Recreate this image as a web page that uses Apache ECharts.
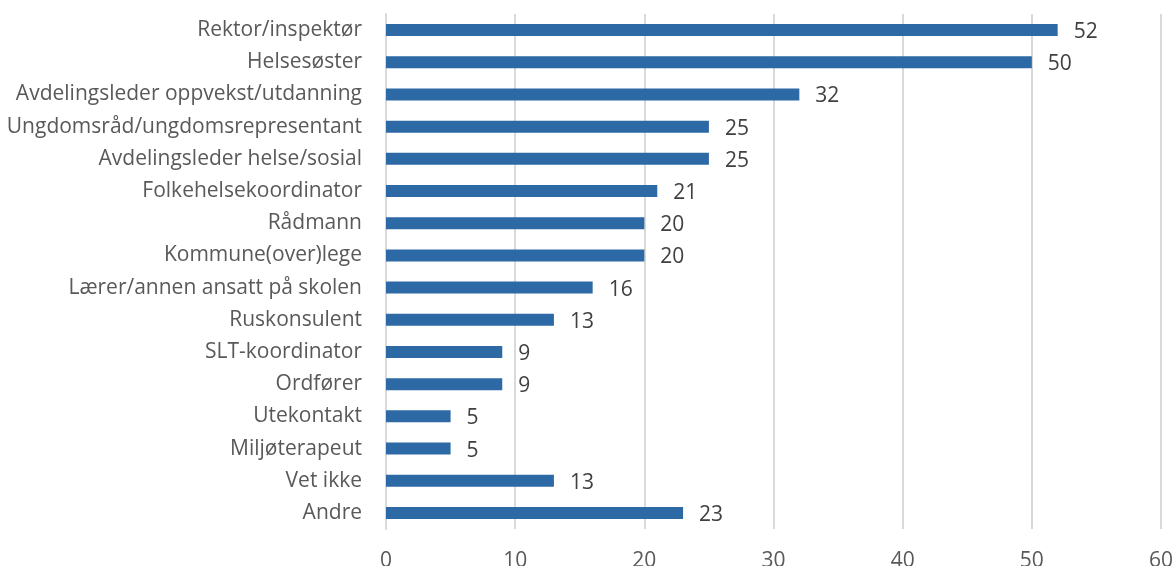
<!DOCTYPE html>
<html>
<head>
<meta charset="utf-8">
<script src="https://cdn.jsdelivr.net/npm/echarts@6/dist/echarts.min.js"></script>
<style>
  html, body { margin: 0; padding: 0; background: #fff; }
  #chart { width: 1176px; height: 566px; }
</style>
</head>
<body>
<div id="chart"></div>
<script>
// kategorier, fra topp til bunn
const categories = [
  'Rektor/inspektør', 'Helsesøster', 'Avdelingsleder oppvekst/utdanning',
  'Ungdomsråd/ungdomsrepresentant', 'Avdelingsleder helse/sosial',
  'Folkehelsekoordinator', 'Rådmann', 'Kommune(over)lege',
  'Lærer/annen ansatt på skolen', 'Ruskonsulent', 'SLT-koordinator',
  'Ordfører', 'Utekontakt', 'Miljøterapeut', 'Vet ikke', 'Andre'
];
const values = [52, 50, 32, 25, 25, 21, 20, 20, 16, 13, 9, 9, 5, 5, 13, 23];
const xTicks = [0, 10, 20, 30, 40, 50, 60];

const font = '"Open Sans", "Noto Sans", sans-serif';
let chart = echarts.init(document.getElementById('chart'));
chart.setOption({
  animation: false,
  grid: { left: 386, right: 15, top: 14, bottom: 37, containLabel: false, outerBoundsMode: 'none' },
  xAxis: {
    type: 'value',
    min: xTicks[0],
    max: xTicks[xTicks.length - 1],
    interval: 10,
    axisLine: { show: false },
    axisTick: { show: false },
    splitLine: { lineStyle: { color: '#d9d9d9', width: 2 } },
    axisLabel: { color: '#595959', fontSize: 21, fontFamily: font, margin: 22 }
  },
  yAxis: {
    type: 'category',
    inverse: true,
    data: categories,
    axisLine: { lineStyle: { color: '#d9d9d9', width: 2 } },
    axisTick: { show: false },
    axisLabel: { color: '#595959', fontSize: 21, fontFamily: font, margin: 24 }
  },
  series: [{
    type: 'bar',
    data: values,
    barWidth: 12,
    itemStyle: { color: '#2d69a5' },
    label: {
      show: true,
      position: 'right',
      distance: 16,
      color: '#404040',
      fontSize: 21,
      fontFamily: font,
      offset: [0, 2]
    }
  }]
});
</script>
</body>
</html>
